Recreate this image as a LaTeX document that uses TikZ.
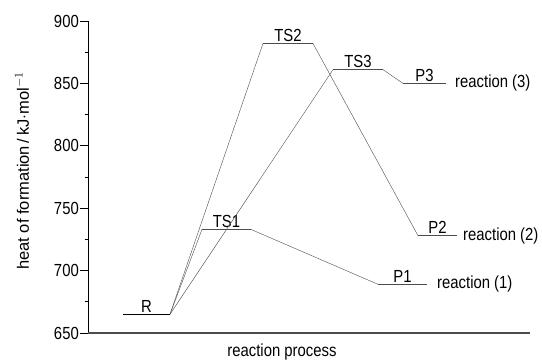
\documentclass[tikz,border=0pt]{standalone}
\usepackage{fontspec}
\setmainfont[FakeStretch=0.85]{Liberation Sans}
\newfontfamily\axisfont{Liberation Sans}
\usepackage{tikz}
\tikzset{level/.style={draw=black!70, line width=0.6pt},
  path/.style={draw=black!65, line width=0.45pt},
  lab/.style={above, inner sep=1.5pt},
  rlab/.style={right, inner sep=0pt}}

\begin{document}
\begin{tikzpicture}[x=1pt, y=1.248pt, font=\fontsize{17.5}{19}\selectfont]
\useasboundingbox (0,-21.63) rectangle (542,266.83);
\draw[line width=0.9pt] (88,0)--(88,250);
\draw[black!70, line width=1.2pt] (88,0)--(530,0);
\foreach \v in {0,50,...,250}{
  \draw[line width=0.8pt] (80,\v)--(88,\v);
  \pgfmathtruncatemacro{\lbl}{650+\v}
  \node[left, inner sep=1pt] at (80,\v) {\lbl};}
\foreach \v in {25,75,...,225}
  \draw[line width=0.8pt] (84.5,\v)--(88,\v);
\node[rotate=90, font=\axisfont\fontsize{16.5}{18}\selectfont] (ylab) at (22,129.8) {heat of formation\,/\,kJ$\cdot$mol$^{-1}$};
\node (xlab) at (282,-15.2) {reaction process};
\coordinate (R-l) at (123,15);   \coordinate (R-r) at (170,15);
\coordinate (TS1-l) at (202,83); \coordinate (TS1-r) at (251,83);
\coordinate (TS2-l) at (263,232);\coordinate (TS2-r) at (313,232);
\coordinate (TS3-l) at (333,211);\coordinate (TS3-r) at (383,211);
\coordinate (P1-l) at (378,39);  \coordinate (P1-r) at (427,39);
\coordinate (P2-l) at (418,78);  \coordinate (P2-r) at (457,78);
\coordinate (P3-l) at (403,200); \coordinate (P3-r) at (446,200);
\draw[black, line width=0.8pt] (R-l)--(R-r) node[midway, lab]{R};
\draw[level] (TS1-l)--(TS1-r) node[midway, lab]{TS1};
\draw[level] (TS2-l)--(TS2-r) node[midway, lab]{TS2};
\draw[level] (TS3-l)--(TS3-r) node[midway, lab]{TS3};
\draw[level] (P1-l)--(P1-r) node[midway, lab]{P1};
\draw[level] (P2-l)--(P2-r) node[midway, lab]{P2};
\draw[level] (P3-l)--(P3-r) node[midway, lab]{P3};
\draw[path] (R-r)--(TS1-l) (TS1-r)--(P1-l);
\draw[path] (R-r)--(TS2-l) (TS2-r)--(P2-l);
\draw[path] (R-r)--(TS3-l) (TS3-r)--(P3-l);
\node[rlab, xshift=10pt] (r1) at (P1-r) {reaction (1)};
\node[rlab, xshift=6pt] (r2) at (P2-r) {reaction (2)};
\node[rlab, xshift=9pt] (r3) at (P3-r) {reaction (3)};
\end{tikzpicture}
\end{document}
